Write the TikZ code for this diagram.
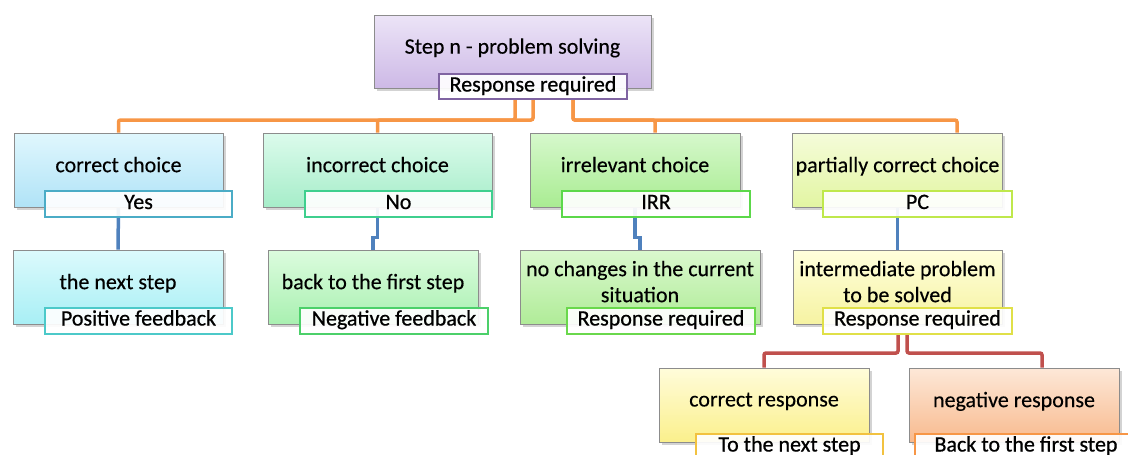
\documentclass[tikz,border=0pt]{standalone}
\usepackage{fontspec}
\setmainfont{Carlito}
\newfontfamily\boxfont{Carlito}[FakeBold=0.3]
\newfontfamily\tagfont{Carlito}[FakeBold=0.7]
\usepackage{tikz}
\usetikzlibrary{shapes, arrows}
\usetikzlibrary{positioning, shadows, backgrounds}
\definecolor{topA}{HTML}{ECE4F7}
\definecolor{topB}{HTML}{CDB9E6}
\definecolor{topT}{HTML}{8064A2}
\definecolor{bAa}{HTML}{E0F7FD}
\definecolor{bAb}{HTML}{B0E3F7}
\definecolor{bAt}{HTML}{4BACC6}
\definecolor{bBa}{HTML}{DCFBEC}
\definecolor{bBb}{HTML}{A6EDC9}
\definecolor{bBt}{HTML}{3FCF8E}
\definecolor{bCa}{HTML}{D6F8CC}
\definecolor{bCb}{HTML}{A9EC92}
\definecolor{bCt}{HTML}{5CD84A}
\definecolor{bDa}{HTML}{F5FCDA}
\definecolor{bDb}{HTML}{E2F5A2}
\definecolor{bDt}{HTML}{BFE84C}
\definecolor{cAa}{HTML}{DCFAFC}
\definecolor{cAb}{HTML}{A8EFF5}
\definecolor{cAt}{HTML}{4CC9C9}
\definecolor{cBa}{HTML}{DCFCDE}
\definecolor{cBb}{HTML}{A9F0B1}
\definecolor{cBt}{HTML}{4CD06A}
\definecolor{cCa}{HTML}{DAF8CE}
\definecolor{cCb}{HTML}{B0EC98}
\definecolor{cCt}{HTML}{6AD84C}
\definecolor{cDa}{HTML}{FFFFDC}
\definecolor{cDb}{HTML}{F6F3A2}
\definecolor{cDt}{HTML}{E0E048}
\definecolor{dAa}{HTML}{FFFCDA}
\definecolor{dAb}{HTML}{FBF08C}
\definecolor{dAt}{HTML}{F2C240}
\definecolor{dBa}{HTML}{FDE8D8}
\definecolor{dBb}{HTML}{F8BA8E}
\definecolor{dBt}{HTML}{F79646}
\definecolor{orangeC}{HTML}{F79646}
\definecolor{blueC}{HTML}{4F81BD}
\definecolor{redC}{HTML}{C0504D}
\tikzstyle{box} = [rectangle, minimum height = 74, draw = black!45,
  line width = 0.7, text centered, align = center, text depth = 11pt,
  font = \boxfont\fontsize{22}{26}\selectfont,
  drop shadow = {shadow xshift = 2.5pt, shadow yshift = -3pt, opacity = 0.35}]
\tikzstyle{tag} = [rectangle, minimum height = 26, inner sep = 0,
  fill = white, fill opacity = 0.92, text opacity = 1, line width = 2,
  text centered, text height = 14pt, text depth = 4pt,
  font = \tagfont\fontsize{22}{26}\selectfont]
\tikzstyle{orangeline} = [draw = orangeC, line width = 3.5, rounded corners = 2]
\tikzstyle{blueline} = [draw = blueC, line width = 3.5]
\tikzstyle{redline} = [draw = redC, line width = 3.5, rounded corners = 2]

\begin{document}
\begin{tikzpicture}[x = 1pt, y = 1pt, node distance = 0]
    \useasboundingbox (0, 0) rectangle (1128, -455);
    % top
    \node [box, minimum width = 277, minimum height = 73, top color = topA,
    bottom color = topB] (box-top) at (512.5, -51.5) {Step n - problem solving};
    \node [tag, minimum width = 188, minimum height = 25, draw = topT,
    below of = box-top, xshift = 20.5, yshift = -35] (tag-top) {Response required};
    \coordinate [below of = tag-top, yshift = -33.5] (bus-top);
    % 1-0
    \node [box, minimum width = 209, top color = bAa, bottom color = bAb,
    below of = box-top, xshift = -394, yshift = -118.5] (box-1-0) {correct choice};
    \node [tag, minimum width = 187, draw = bAt, below of = box-1-0,
    xshift = 20, yshift = -34] (tag-1-0) {Yes};
    % 1-1
    \node [box, minimum width = 229, top color = bBa, bottom color = bBb,
    right of = box-1-0, xshift = 259] (box-1-1) {incorrect choice};
    \node [tag, minimum width = 187, draw = bBt, below of = box-1-1,
    xshift = 21, yshift = -34] (tag-1-1) {No};
    % 1-2
    \node [box, minimum width = 210, top color = bCa, bottom color = bCb,
    right of = box-1-1, xshift = 257.5] (box-1-2) {irrelevant choice};
    \node [tag, minimum width = 188, draw = bCt, below of = box-1-2,
    xshift = 21, yshift = -34] (tag-1-2) {IRR};
    % 1-3
    \node [box, minimum width = 209, top color = bDa, bottom color = bDb,
    right of = box-1-2, xshift = 262.5] (box-1-3) {partially correct choice};
    \node [tag, minimum width = 189, draw = bDt, below of = box-1-3,
    xshift = 20, yshift = -34] (tag-1-3) {PC};
    % 2-0
    \node [box, minimum width = 210, top color = cAa, bottom color = cAb,
    below of = box-1-0, xshift = -0.5, yshift = -117] (box-2-0) {the next step};
    \node [tag, minimum width = 187, draw = cAt, below of = box-2-0,
    xshift = 20.5, yshift = -33.5] (tag-2-0) {Positive feedback};
    % 2-1
    \node [box, minimum width = 210, top color = cBa, bottom color = cBb,
    below of = box-1-1, xshift = -4.5, yshift = -117] (box-2-1) {back to the first step};
    \node [tag, minimum width = 188, draw = cBt, below of = box-2-1,
    xshift = 21, yshift = -33.5] (tag-2-1) {Negative feedback};
    % 2-2
    \node [box, minimum width = 240, top color = cCa, bottom color = cCb,
    below of = box-1-2, xshift = 5, yshift = -117] (box-2-2)
    {no changes in the current\\situation};
    \node [tag, minimum width = 188, draw = cCt, below of = box-2-2,
    xshift = 21, yshift = -33.5] (tag-2-2) {Response required};
    % 2-3
    \node [box, minimum width = 209, top color = cDa, bottom color = cDb,
    below of = box-1-3, yshift = -117] (box-2-3)
    {intermediate problem\\to be solved};
    \node [tag, minimum width = 189, draw = cDt, below of = box-2-3,
    xshift = 20, yshift = -33.5] (tag-2-3) {Response required};
    \coordinate [below of = tag-2-3, yshift = -32.5] (bus-red);
    % 3-0
    \node [box, minimum width = 210, top color = dAa, bottom color = dAb,
    below of = box-2-3, xshift = -133.5, yshift = -118] (box-3-0) {correct response};
    \node [tag, minimum width = 187, draw = dAt, below of = box-3-0,
    xshift = 25.5, yshift = -41.5] (tag-3-0) {To the next step};
    % 3-1
    \node [box, minimum width = 210, top color = dBa, bottom color = dBb,
    right of = box-3-0, xshift = 250] (box-3-1) {negative response};
    \node [tag, minimum width = 222, draw = dBt, below of = box-3-1,
    xshift = 12, yshift = -41.5] (tag-3-1) {Back to the first step};

    \begin{scope}[on background layer]
      \draw [orangeline] ([xshift = -18]tag-top.south) --
      ([xshift = -18]tag-top.south |- bus-top) -| (box-1-0.north);
      \draw [orangeline] (tag-top.south) -- (tag-top.south |- bus-top) -|
      (box-1-1.north);
      \draw [orangeline] ([xshift = 40]tag-top.south) --
      ([xshift = 40]tag-top.south |- bus-top) -| ([xshift = 20]box-1-2.north);
      \draw [orangeline] ([xshift = 40]tag-top.south) --
      ([xshift = 40]tag-top.south |- bus-top) -| ([xshift = 59.5]box-1-3.north);
      \draw [blueline] (box-1-0.south) -- (box-2-0.north);
      \draw [blueline] (box-1-1.south) |- ([yshift = 12]box-2-1.north) --
      (box-2-1.north);
      \draw [blueline] (box-1-2.south) |- ([yshift = 12]box-2-2.north) --
      (box-2-2.north);
      \draw [blueline] (box-1-3.south) -- (box-2-3.north);
      \draw [redline] ([xshift = -19.5]tag-2-3.south) --
      ([xshift = -19.5]tag-2-3.south |- bus-red) -| (box-3-0.north);
      \draw [redline] ([xshift = -10.5]tag-2-3.south) --
      ([xshift = -10.5]tag-2-3.south |- bus-red) -| ([xshift = 28]box-3-1.north);
    \end{scope}
  \end{tikzpicture}
\end{document}
